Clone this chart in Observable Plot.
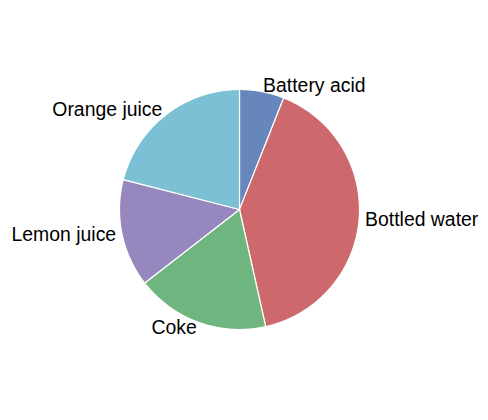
<!DOCTYPE html>
<html>
<head>
<meta charset="utf-8">
<script src="https://cdn.jsdelivr.net/npm/d3@7"></script>
<script src="https://cdn.jsdelivr.net/npm/@observablehq/plot@0.6"></script>
<style>
  html, body { margin: 0; padding: 0; background: #fff; }
</style>
</head>
<body>
<div id="chart"></div>
<script>
const labels = ["Battery acid", "Bottled water", "Coke", "Lemon juice", "Orange juice"];
const values = [6, 40.5, 18, 14.5, 21];
const colors = ["#6787bc", "#cd686c", "#6eb57f", "#9688be", "#7bc0d4"];

const W = 488, H = 420;
const cx = 239, cy = 209, R = 120;
const labelDistance = 1.05;

const total = d3.sum(values);
let acc = 0;
const slices = labels.map((label, i) => {
  const a0 = acc / total * 2 * Math.PI;
  acc += values[i];
  const a1 = acc / total * 2 * Math.PI;
  return {label, a0, a1, mid: (a0 + a1) / 2};
});

// polygon points for each wedge (angle measured clockwise from the top)
const wedgePts = [];
for (const s of slices) {
  wedgePts.push({label: s.label, x: 0, y: 0});
  const n = Math.max(2, Math.ceil((s.a1 - s.a0) / 0.01));
  for (let k = 0; k <= n; k++) {
    const a = s.a0 + (s.a1 - s.a0) * k / n;
    wedgePts.push({label: s.label, x: Math.sin(a), y: Math.cos(a)});
  }
  wedgePts.push({label: s.label, x: 0, y: 0});
}

const labelPts = slices.map(s => ({
  label: s.label,
  x: Math.sin(s.mid) * labelDistance,
  y: Math.cos(s.mid) * labelDistance
}));

const font = "'Liberation Sans', Arial, sans-serif";

const chart = Plot.plot({
  width: W,
  height: H,
  margin: 0,
  style: {fontFamily: font, background: "#fff"},
  x: {domain: [-cx / R, (W - cx) / R], range: [0, W], axis: null},
  y: {domain: [-(H - cy) / R, cy / R], range: [H, 0], axis: null},
  color: {domain: labels, range: colors},
  marks: [
    Plot.line(wedgePts, {x: "x", y: "y", z: "label", fill: "label", stroke: "white", strokeWidth: 1.2, curve: "linear-closed"}),
    Plot.text(labelPts.filter(d => d.x >= 0), {x: "x", y: "y", text: "label", textAnchor: "start", lineAnchor: "middle", fontSize: 19.4, fill: "black"}),
    Plot.text(labelPts.filter(d => d.x < 0), {x: "x", y: "y", text: "label", textAnchor: "end", lineAnchor: "middle", fontSize: 19.4, fill: "black"})
  ]
});
document.getElementById("chart").appendChild(chart);
</script>
</body>
</html>
